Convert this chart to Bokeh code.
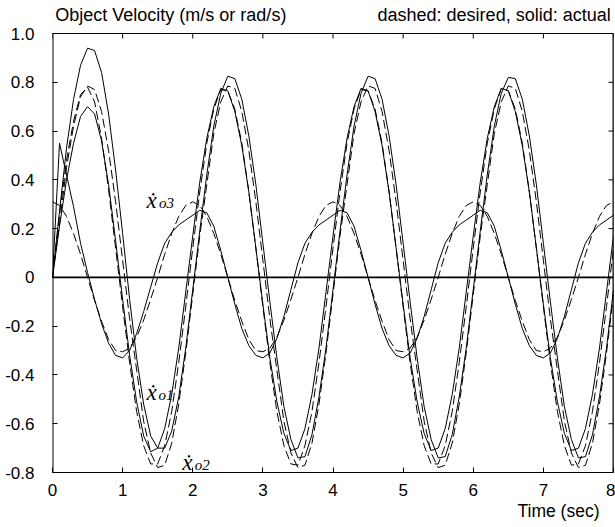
from bokeh.plotting import figure
from bokeh.models import Range1d, FixedTicker, Span, Label, Title
from bokeh.core.properties import value
from bokeh.embed import file_html
from bokeh.resources import INLINE

# time samples (sec)
t = [round(i * 0.1, 1) for i in range(81)]

# desired (dashed) and actual (solid) object velocities
xo1_desired = [
    0.0, 0.26, 0.48, 0.64, 0.75, 0.78, 0.72, 0.57, 0.36, 0.12, -0.12, -0.35, -0.55, -0.69, -0.765, -0.765, -0.69, -0.55, -0.35, -0.12,
    0.12, 0.35, 0.55, 0.69, 0.77, 0.765, 0.69, 0.55, 0.35, 0.12, -0.12, -0.35, -0.55, -0.69, -0.765, -0.77, -0.69, -0.55, -0.35, -0.12,
    0.12, 0.35, 0.55, 0.69, 0.77, 0.765, 0.69, 0.55, 0.35, 0.12, -0.12, -0.35, -0.55, -0.69, -0.765, -0.765, -0.69, -0.55, -0.35, -0.12,
    0.12, 0.35, 0.55, 0.69, 0.775, 0.765, 0.69, 0.55, 0.35, 0.12, -0.12, -0.35, -0.55, -0.69, -0.77, -0.765, -0.69, -0.55, -0.35, -0.12,
    0.12]
xo2_desired = [
    0.0, 0.22, 0.45, 0.62, 0.74, 0.785, 0.77, 0.68, 0.52, 0.31, 0.07, -0.17, -0.38, -0.59, -0.72, -0.78, -0.77, -0.68, -0.52, -0.31,
    -0.07, 0.17, 0.38, 0.59, 0.72, 0.785, 0.775, 0.68, 0.52, 0.31, 0.07, -0.17, -0.38, -0.59, -0.72, -0.78, -0.77, -0.68, -0.52, -0.31,
    -0.07, 0.17, 0.38, 0.59, 0.72, 0.785, 0.775, 0.68, 0.52, 0.31, 0.07, -0.17, -0.38, -0.59, -0.72, -0.78, -0.77, -0.68, -0.52, -0.31,
    -0.07, 0.17, 0.38, 0.59, 0.72, 0.785, 0.775, 0.68, 0.52, 0.31, 0.07, -0.17, -0.38, -0.59, -0.72, -0.78, -0.77, -0.68, -0.52, -0.31,
    -0.07]
xo3_desired = [
    0.31, 0.295, 0.25, 0.18, 0.095, 0.0, -0.095, -0.18, -0.255, -0.30, -0.305, -0.29, -0.245, -0.175, -0.09, 0.0, 0.095, 0.18, 0.25, 0.295,
    0.31, 0.295, 0.25, 0.18, 0.095, 0.0, -0.095, -0.18, -0.255, -0.30, -0.305, -0.29, -0.245, -0.175, -0.09, 0.0, 0.095, 0.18, 0.25, 0.295,
    0.31, 0.295, 0.25, 0.18, 0.095, 0.0, -0.095, -0.18, -0.255, -0.30, -0.305, -0.29, -0.245, -0.175, -0.09, 0.0, 0.095, 0.18, 0.25, 0.295,
    0.31, 0.295, 0.25, 0.18, 0.095, 0.0, -0.095, -0.18, -0.255, -0.30, -0.305, -0.29, -0.245, -0.175, -0.09, 0.0, 0.095, 0.18, 0.25, 0.295,
    0.31]
xo1_actual = [
    0.0, 0.21, 0.40, 0.55, 0.66, 0.70, 0.67, 0.56, 0.38, 0.15, -0.09, -0.32, -0.51, -0.65, -0.715, -0.70, -0.62, -0.48, -0.29, -0.06,
    0.17, 0.39, 0.57, 0.70, 0.775, 0.765, 0.68, 0.54, 0.35, 0.12, -0.11, -0.33, -0.51, -0.64, -0.71, -0.70, -0.62, -0.48, -0.29, -0.06,
    0.17, 0.39, 0.57, 0.70, 0.775, 0.765, 0.68, 0.54, 0.35, 0.12, -0.11, -0.33, -0.51, -0.64, -0.71, -0.70, -0.62, -0.48, -0.29, -0.06,
    0.17, 0.39, 0.57, 0.70, 0.775, 0.765, 0.68, 0.54, 0.35, 0.12, -0.11, -0.33, -0.51, -0.64, -0.71, -0.70, -0.62, -0.48, -0.29, -0.06,
    0.17]
xo2_actual = [
    0.0, 0.27, 0.53, 0.73, 0.87, 0.94, 0.93, 0.84, 0.67, 0.44, 0.18, -0.09, -0.33, -0.52, -0.65, -0.70, -0.70, -0.63, -0.49, -0.29,
    -0.05, 0.19, 0.42, 0.62, 0.755, 0.825, 0.815, 0.73, 0.58, 0.38, 0.14, -0.10, -0.33, -0.53, -0.665, -0.74, -0.735, -0.645, -0.49, -0.29,
    -0.05, 0.19, 0.42, 0.62, 0.755, 0.825, 0.815, 0.73, 0.58, 0.38, 0.14, -0.10, -0.33, -0.53, -0.665, -0.74, -0.735, -0.645, -0.49, -0.29,
    -0.05, 0.19, 0.42, 0.62, 0.755, 0.82, 0.815, 0.73, 0.58, 0.38, 0.14, -0.10, -0.33, -0.53, -0.665, -0.74, -0.735, -0.645, -0.49, -0.29,
    -0.05]
xo3_actual = [
    0.0, 0.55, 0.42, 0.29, 0.14, 0.02, -0.09, -0.19, -0.27, -0.32, -0.33, -0.30, -0.23, -0.14, -0.04, 0.06, 0.14, 0.185, 0.215, 0.235,
    0.255, 0.275, 0.265, 0.21, 0.11, 0.0, -0.11, -0.21, -0.28, -0.32, -0.33, -0.31, -0.25, -0.16, -0.05, 0.06, 0.14, 0.185, 0.215, 0.235,
    0.255, 0.275, 0.265, 0.21, 0.11, 0.0, -0.11, -0.21, -0.28, -0.32, -0.33, -0.31, -0.25, -0.16, -0.05, 0.06, 0.14, 0.185, 0.215, 0.235,
    0.255, 0.275, 0.265, 0.21, 0.11, 0.0, -0.11, -0.21, -0.28, -0.32, -0.33, -0.31, -0.25, -0.16, -0.05, 0.06, 0.14, 0.185, 0.215, 0.235,
    0.255]

x_ticks = [0, 1, 2, 3, 4, 5, 6, 7, 8]
y_ticks = [-0.8, -0.6, -0.4, -0.2, 0, 0.2, 0.4, 0.6, 0.8, 1.0]
y_tick_labels = ["-0.8", "-0.6", "-0.4", "-0.2", "0", "0.2", "0.4", "0.6", "0.8", "1.0"]

title_left = "Object Velocity (m/s or rad/s)"
title_right = "dashed: desired, solid: actual"
x_label = "Time (sec)"

SANS = "Liberation Sans"
SERIF = "Liberation Serif"

# layout: x 0..8 over 561 px, y -0.8..1.0 over 439 px; frame extends 33 px above y=1.0
X0, X1, Y0, Y1 = 0, 8, -0.8, 1.0
PX_X = 561 / 8.0
PX_Y = 439 / 1.8
TOP_PAD = 33 / PX_Y
TICK_DX = 5 / PX_X
TICK_DY = 5 / PX_Y

p = figure(width=615, height=527, output_backend="svg", toolbar_location=None,
           x_range=Range1d(X0, X1), y_range=Range1d(Y0, Y1 + TOP_PAD),
           min_border_left=52, min_border_right=2, min_border_top=0, min_border_bottom=55,
           title_location=None, background_fill_color="white", border_fill_color="white")
p.grid.visible = False
p.outline_line_color = None

xa = p.xaxis[0]
xa.ticker = FixedTicker(ticks=x_ticks)
ya = p.yaxis[0]
ya.ticker = FixedTicker(ticks=y_ticks)
ya.major_label_overrides = {v: s for v, s in zip(y_ticks, y_tick_labels)}
for ax in (xa, ya):
    ax.major_tick_in = 5
    ax.major_tick_out = 0
    ax.minor_tick_in = 0
    ax.minor_tick_out = 0
    ax.major_tick_line_color = "black"
    ax.major_label_text_color = "black"
    ax.major_label_text_font = SANS
    ax.major_label_text_font_size = "17px"
xa.axis_line_color = "black"
ya.axis_line_color = None
xa.major_label_standoff = 11
ya.major_label_standoff = 18

# frame box: left, top, right edges, plus inward ticks on top and right
p.line([X0, X0], [Y0, Y1], line_color="black", line_width=2)
p.line([X0, X1, X1], [Y1, Y1, Y0], line_color="black", line_width=1)
p.line([X1, X1], [Y0, Y1], line_color="black", line_width=2)
p.segment(x0=x_ticks, y0=[Y1] * len(x_ticks), x1=x_ticks, y1=[Y1 - TICK_DY] * len(x_ticks),
          line_color="black", line_width=1)
p.segment(x0=[X1] * len(y_ticks), y0=y_ticks, x1=[X1 - TICK_DX] * len(y_ticks), y1=y_ticks,
          line_color="black", line_width=1)

p.add_layout(Span(location=0, dimension="width", line_color="black", line_width=1.6))

DASH = "9 4"
for ys in (xo1_desired, xo2_desired, xo3_desired):
    p.line(t, ys, line_color="black", line_width=1, line_dash=DASH)
for ys in (xo1_actual, xo2_actual, xo3_actual):
    p.line(t, ys, line_color="black", line_width=1)

# curve labels
def curve_label(x, y, sub, sx, sy):
    p.add_layout(Label(x=x, y=y, text="ẋ", text_font=SERIF, text_font_style="italic",
                       text_font_size="23px", text_color="black",
                       text_align="left", text_baseline="alphabetic"))
    p.add_layout(Label(x=sx, y=sy, text=sub, text_font=SERIF, text_font_style="italic",
                       text_font_size="15px", text_color="black",
                       text_align="left", text_baseline="alphabetic"))

curve_label(1.34, 0.316, "o3", 1.52, 0.303)
curve_label(1.34, -0.471, "o1", 1.51, -0.484)
curve_label(1.85, -0.758, "o2", 2.03, -0.771)

# header texts (inside the extended frame area above y = 1.0)
p.text(x=[0.04], y=[1.074], text=[title_left], text_font=value(SANS), text_font_size="18px",
       text_color="black", text_align="left", text_baseline="middle")
p.text(x=[7.96], y=[1.074], text=[title_right], text_font=value(SANS), text_font_size="18px",
       text_color="black", text_align="right", text_baseline="middle")

# x-axis caption, right aligned below the tick labels
p.add_layout(Title(text=x_label, align="right", text_font=SANS, text_font_size="17.5px",
                   text_font_style="normal", text_color="black", offset=14, standoff=0),
             "below")

open("out.html", "w").write(file_html(p, INLINE))
